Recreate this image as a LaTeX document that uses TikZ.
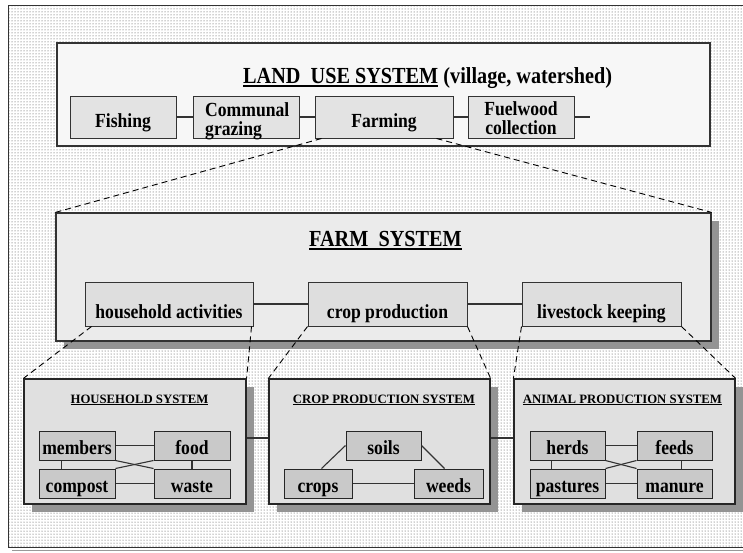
\documentclass[tikz,border=0pt]{standalone}
\usepackage{fontspec}
\setmainfont{Liberation Serif}
\newfontfamily\mytallfam[FakeStretch=0.88]{Liberation Serif}
\usetikzlibrary{patterns,shadows,calc}
\newcommand{\myul}[3]{\leavevmode\sbox0{#3}\rlap{\vrule height -#1 depth #2 width \wd0}\usebox0}
\newcommand{\mytitlefont}{\mytallfam\fontsize{23}{24}\selectfont\bfseries}
\newcommand{\myboxfont}{\mytallfam\fontsize{20}{17}\selectfont\bfseries}
\newcommand{\mysysfont}{\fontsize{12.75}{14}\selectfont\bfseries}
\begin{document}
\begin{tikzpicture}[x=1pt,y=-1pt,
  landbox/.style={draw=black!80, line width=1.2pt, fill=black!3, minimum width=653pt, minimum height=103pt, inner sep=0pt},
  topitem/.style={draw=black!80, line width=1pt, fill=black!11, inner sep=0pt, minimum height=42pt, text height=20pt, text depth=0pt, font=\myboxfont},
  boxtext/.style={inner sep=0pt, font=\myboxfont},
  farmbox/.style={draw=black!80, line width=1.2pt, fill=black!8, minimum width=655pt, minimum height=128pt, inner sep=0pt,
    drop shadow={shadow xshift=8pt, shadow yshift=-8pt, fill=black!42, opacity=1}},
  farmitem/.style={draw=black!80, line width=1pt, fill=black!13, inner sep=0pt, minimum height=44pt, text height=28pt, text depth=0pt, font=\myboxfont},
  sysbox/.style={draw=black!85, line width=1.2pt, fill=black!12, minimum width=221pt, minimum height=125pt, inner sep=0pt,
    drop shadow={shadow xshift=8pt, shadow yshift=-8pt, fill=black!42, opacity=1}},
  item/.style={draw=black!85, line width=1pt, fill=black!21, inner sep=0pt, minimum width=76pt, minimum height=29pt, text height=17pt, text depth=0pt, font=\myboxfont},
  link/.style={draw=black!80, line width=1.1pt},
  zoomline/.style={draw=black, line width=0.9pt, dash pattern=on 6pt off 4pt},
  systitle/.style={anchor=base, inner sep=0pt, font=\mysysfont},
  bigtitle/.style={inner sep=0pt, font=\mytitlefont}]
\useasboundingbox (0,0) rectangle (743,552);
\fill[white] (0,0) rectangle (743,552);
\fill[pattern=dots, pattern color=black!75] (8,5) rectangle (750,547);
\draw[black!40, line width=1pt] (12,550) -- (750,550);
\draw[black!80, line width=1pt] (750,5) -- (8,5) -- (8,547) -- (750,547);

% land use system
\node[landbox] (land) at (383.5,94.5) {};
\node[bigtitle, anchor=base west] (landtitle) at (243,83) {\myul{2pt}{4pt}{LAND~~USE SYSTEM} (village, watershed)};
\node[topitem, minimum width=106pt] (fishing) at (123,117) {Fishing};
\node[topitem, minimum width=106pt] (communal) at (246,117) {};
\node[boxtext, anchor=base west] (communaltext) at (205,135)
  {\renewcommand{\arraystretch}{1}\begin{tabular}[b]{@{}l@{}}Communal\\grazing\end{tabular}};
\node[topitem, minimum width=138pt] (farming) at (384,117) {Farming};
\node[topitem, minimum width=106pt] (fuelwood) at (521,117) {};
\node[boxtext, anchor=base] (fuelwoodtext) at (521,134)
  {\renewcommand{\arraystretch}{1}\begin{tabular}[b]{@{}c@{}}Fuelwood\\collection\end{tabular}};
\coordinate (stub) at (590,117);
\draw[link] (fishing) -- (communal);
\draw[link] (communal) -- (farming);
\draw[link] (farming) -- (fuelwood);
\draw[link] (fuelwood) -- (stub);

% farm system
\node[farmbox] (farm) at (383.5,277) {};
\draw[zoomline] ([xshift=7pt]farming.south west) -- (farm.north west);
\draw[zoomline] ([xshift=-17pt]farming.south east) -- (farm.north east);
\node[bigtitle, anchor=base] (farmtitle) at (385.5,246) {\myul{2pt}{4pt}{FARM~~SYSTEM}};
\node[farmitem, minimum width=168pt] (hh) at (169,304) {household activities};
\node[farmitem, minimum width=159pt] (cp) at (387.5,304) {crop production};
\node[farmitem, minimum width=159pt] (lk) at (601.5,304) {livestock keeping\hspace{10pt}};
\draw[link] (hh) -- (cp);
\draw[link] (cp) -- (lk);

% subsystems
\node[sysbox, minimum width=222pt] (hhs) at (135,441.5) {};
\node[sysbox] (cps) at (379.5,441.5) {};
\node[sysbox] (aps) at (624.5,441.5) {};
\draw[zoomline] ([xshift=7pt]hh.south west) -- (hhs.north west);
\draw[zoomline] ([xshift=-2pt]hh.south east) -- (hhs.north east);
\draw[zoomline] (cp.south west) -- (cps.north west);
\draw[zoomline] (cp.south east) -- (cps.north east);
\draw[zoomline] (lk.south west) -- (aps.north west);
\draw[zoomline] (lk.south east) -- (aps.north east);
\draw[link] ([yshift=3.5pt]hhs.east) -- ([yshift=3.5pt]cps.west);
\draw[link] ([yshift=3.5pt]cps.east) -- ([yshift=3.5pt]aps.west);

\node[systitle] (hhst) at (139.5,403) {\myul{1pt}{2.2pt}{HOUSEHOLD SYSTEM}};
\node[systitle] (cpst) at (384,403) {\myul{1pt}{2.2pt}{CROP PRODUCTION SYSTEM}};
\node[systitle] (apst) at (622.5,403) {\myul{1pt}{2.2pt}{ANIMAL PRODUCTION SYSTEM}};

% household
\node[item] (members) at (77,445.5) {members};
\node[item] (food) at (192,445.5) {food};
\node[item] (compost) at (77,483.5) {compost};
\node[item] (waste) at (192,483.5) {waste};
\draw[link] (members) -- (food);
\draw[link] (compost) -- (waste);
\draw[link] (members.south east) -- (waste.north west);
\draw[link] (compost.north east) -- (food.south west);
\draw[link] ([xshift=23pt]members.south west) -- ([xshift=23pt]compost.north west);
\draw[link] (food.south) -- (waste.north);

% crop production
\node[item, minimum width=75pt] (soils) at (383.5,445.5) {soils};
\node[item, minimum width=68pt] (crops) at (318,483.5) {crops};
\node[item, minimum width=69pt] (weeds) at (448.5,483.5) {weeds};
\draw[link] (crops) -- (weeds);
\draw[link] (soils.west) -- ([xshift=38pt]crops.north west);
\draw[link] (soils.east) -- ([xshift=31pt]weeds.north west);

% animal production
\node[item, minimum width=75pt] (herds) at (567.5,445.5) {herds};
\node[item, minimum width=75pt] (feeds) at (674.5,445.5) {feeds};
\node[item, minimum width=75pt] (pastures) at (567.5,483.5) {pastures};
\node[item, minimum width=75pt] (manure) at (674.5,483.5) {manure};
\draw[link] (herds) -- (feeds);
\draw[link] (pastures) -- (manure);
\draw[link] (herds.south east) -- (manure.north west);
\draw[link] (pastures.north east) -- (feeds.south west);
\draw[link] ([xshift=22pt]herds.south west) -- ([xshift=22pt]pastures.north west);
\draw[link] ([xshift=45pt]feeds.south west) -- ([xshift=45pt]manure.north west);
\end{tikzpicture}
\end{document}
